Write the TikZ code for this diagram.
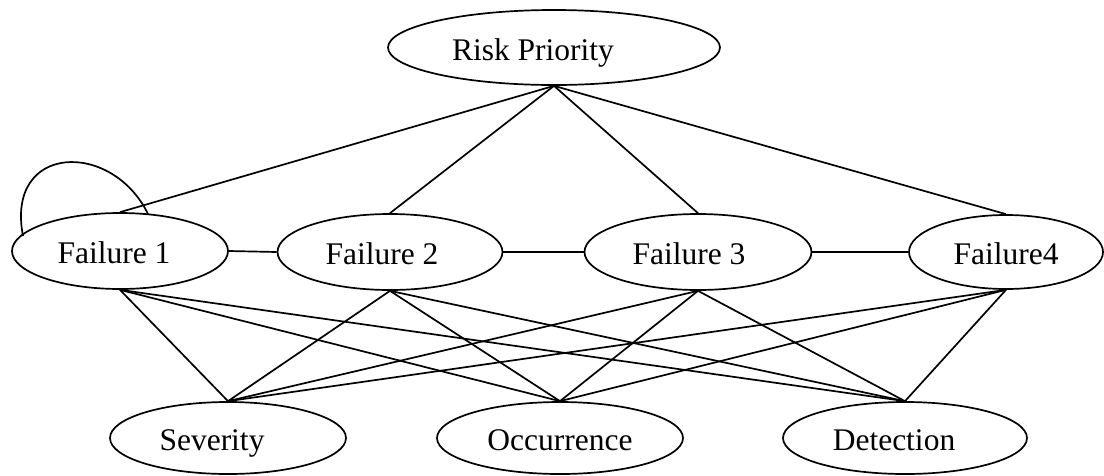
\documentclass[tikz,border=0pt]{standalone}
\usepackage{fontspec}
\setmainfont{Liberation Serif}
\usetikzlibrary{shapes.geometric,calc}
\begin{document}
\begin{tikzpicture}[x=1pt,y=-1pt,
  ell/.style={ellipse,draw,line width=1.7pt,inner sep=0pt,
    font=\fontsize{31.5}{36}\selectfont,text height=25pt,text depth=0pt},
  conn/.style={line width=1.7pt}]
\useasboundingbox (0,0) rectangle (1104,475);
% top
\node[ell,minimum width=332pt,minimum height=75pt] (rp) at (554,47.5) {Risk Priority\kern42pt};
% middle
\node[ell,minimum width=216pt,minimum height=76pt] (f1) at (120,251) {Failure 1\kern12pt};
\node[ell,minimum width=225pt,minimum height=76pt] (f2) at (390,252) {Failure 2\kern16pt};
\node[ell,minimum width=227pt,minimum height=76pt] (f3) at (698,252) {Failure 3\kern18pt};
\node[ell,minimum width=194pt,minimum height=74pt] (f4) at (1006,252) {Failure4};
% bottom
\node[ell,minimum width=236pt,minimum height=72pt] (sev) at (228,438) {Severity\kern32pt};
\node[ell,minimum width=246pt,minimum height=72pt] (occ) at (560,438) {Occurrence};
\node[ell,minimum width=244pt,minimum height=72pt] (det) at (905,438) {Detection\kern22pt};
% risk priority to failures
\foreach \f in {f1,f2,f3,f4} \draw[conn] (rp.south) -- (\f.north);
% chain
\draw[conn] (f1.east) -- (f2.west);
\draw[conn] (f2.east) -- (f3.west);
\draw[conn] (f3.east) -- (f4.west);
% failures to factors
\foreach \f in {f1,f2,f3,f4}
  \foreach \b in {sev,occ,det}
    \draw[conn] (\f.south) -- (\b.north);
% self loop
\draw[conn] ($(f1.center)+(-97,-15)$) .. controls ($(f1.center)+(-115,-108)$) and ($(f1.center)+(-8,-111)$) .. ($(f1.center)+(28,-37)$);
\end{tikzpicture}
\end{document}
